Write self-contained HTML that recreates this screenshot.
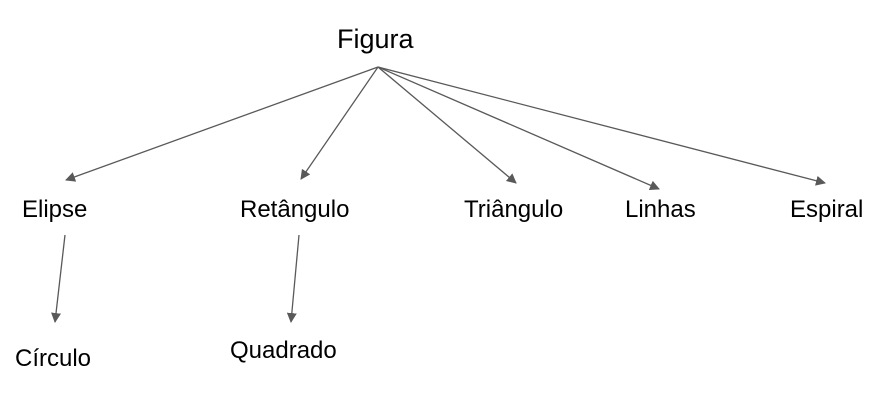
<!DOCTYPE html>
<html><head><meta charset="utf-8"><style>
body{margin:0;background:#fff;}
svg{display:block;}
text{font-family:"Liberation Sans",Arial,sans-serif;fill:#000;}
</style></head><body>
<svg width="880" height="412" viewBox="0 0 880 412">
<defs><marker id="a" markerWidth="10" markerHeight="10" refX="9" refY="5" orient="auto" markerUnits="userSpaceOnUse"><path d="M0,0 L10,5 L0,10 z" fill="#595959"/></marker></defs>
<g stroke="#595959" stroke-width="1.3" fill="none" marker-end="url(#a)">
<line x1="378" y1="67" x2="66" y2="180"/>
<line x1="378" y1="67" x2="301" y2="179"/>
<line x1="378" y1="67" x2="516" y2="183"/>
<line x1="378" y1="67" x2="659" y2="189"/>
<line x1="378" y1="67" x2="825" y2="183"/>
<line x1="65" y1="235" x2="55" y2="322"/>
<line x1="299" y1="235" x2="291" y2="322"/>
</g>
<text x="337" y="48" font-size="27">Figura</text>
<g font-size="24">
<text x="22" y="217">Elipse</text>
<text x="240" y="217">Retângulo</text>
<text x="464" y="217">Triângulo</text>
<text x="625" y="217">Linhas</text>
<text x="790" y="217">Espiral</text>
<text x="15" y="366">Círculo</text>
<text x="230" y="358">Quadrado</text>
</g>
</svg>
</body></html>
